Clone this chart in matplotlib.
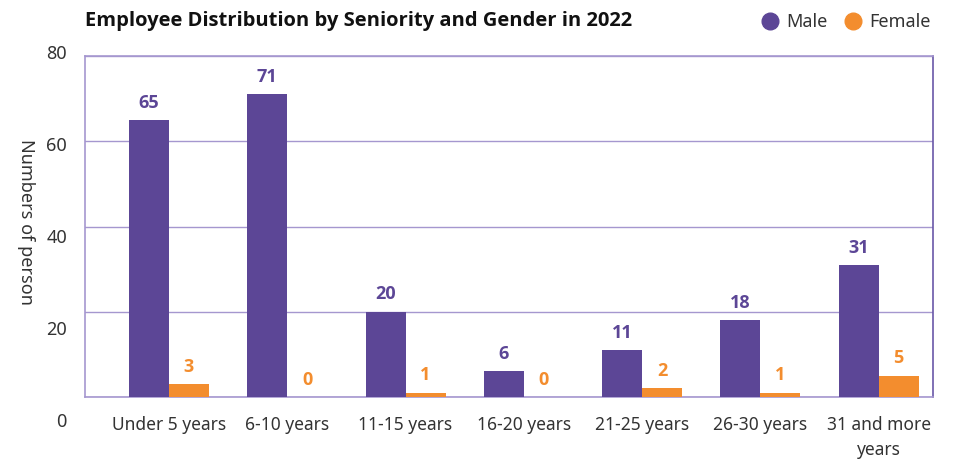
import matplotlib.pyplot as plt
import numpy as np

categories = ["Under 5 years", "6-10 years", "11-15 years", "16-20 years",
              "21-25 years", "26-30 years", "31 and more\nyears"]
male = [65, 71, 20, 6, 11, 18, 31]
female = [3, 0, 1, 0, 2, 1, 5]
y_ticks = [0, 20, 40, 60, 80]

male_color = "#5c4696"
female_color = "#f38d2e"
frame_color = "#a597cf"
text_color = "#333333"
bold_family = ['Open Sans', 'Lato', 'DejaVu Sans']

plt.rcParams['font.family'] = ['Noto Sans', 'DejaVu Sans']

fig = plt.figure(figsize=(9.55, 4.62), dpi=100)
ax = fig.add_axes([0.089, 0.1407, 0.888, 0.738])

x = np.arange(len(categories))
w = 0.338
bm = ax.bar(x - w / 2, male, w, color=male_color, zorder=3)
bf = ax.bar(x + w / 2, female, w, color=female_color, zorder=3)

for rect, v in zip(bm, male):
    ax.annotate(str(v), (rect.get_x() + rect.get_width() / 2, v), xytext=(0, 6),
                textcoords="offset points", ha="center", va="bottom",
                color=male_color, fontsize=13, fontweight="bold", family=bold_family)
for rect, v in zip(bf, female):
    ax.annotate(str(v), (rect.get_x() + rect.get_width() / 2, v), xytext=(0, 6),
                textcoords="offset points", ha="center", va="bottom",
                color=female_color, fontsize=13, fontweight="bold", family=bold_family)

ax.set_xlim(-0.71, 6.46)
ax.set_ylim(0, 80)
ax.set_yticks(y_ticks)
ax.tick_params(axis="y", left=False, labelleft=False)
ax.grid(axis="y", color=frame_color, linewidth=1, zorder=0)
ax.set_xticks(x)
ax.set_xticklabels(categories, fontsize=12.5, color=text_color, linespacing=1.5)
ax.tick_params(axis="x", length=0, pad=14)
for s in ["top", "bottom", "left"]:
    ax.spines[s].set_color(frame_color)
    ax.spines[s].set_linewidth(1.2)
ax.spines["right"].set_color("#6a58a8")
ax.spines["right"].set_linewidth(1.2)

# separate axis for the y labels (they sit offset from the gridlines)
lab = fig.add_axes([0.089, 0.0909, 0.001, 0.7965])
lab.set_ylim(0, 80)
lab.set_yticks(y_ticks)
lab.set_yticklabels([str(t) for t in y_ticks], fontsize=13, color=text_color)
lab.tick_params(axis="y", length=0, pad=13)
lab.set_xticks([])
for s in lab.spines.values():
    s.set_visible(False)
lab.patch.set_alpha(0)

fig.text(0.027, 0.52, "Numbers of person", rotation=270, ha="center", va="center",
         fontsize=13, color=text_color)

fig.text(0.089, 0.955, "Employee Distribution by Seniority and Gender in 2022",
         fontsize=14.5, fontweight="bold", family=bold_family, color="#111111", va="center")

handles = [plt.Line2D([], [], marker="o", linestyle="", markersize=12, color=male_color),
           plt.Line2D([], [], marker="o", linestyle="", markersize=12, color=female_color)]
leg = fig.legend(handles, ["Male", "Female"], loc="center right", bbox_to_anchor=(0.992, 0.952),
                 ncol=2, frameon=False, fontsize=13, handletextpad=0.4, columnspacing=0.9,
                 handlelength=1.0)
for t in leg.get_texts():
    t.set_color(text_color)

fig.savefig("out.png", dpi=100)
